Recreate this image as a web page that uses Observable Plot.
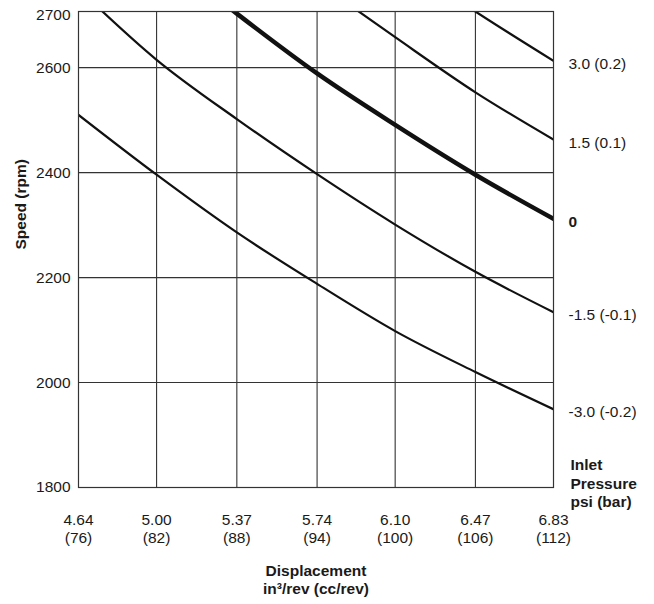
<!DOCTYPE html>
<html>
<head>
<meta charset="utf-8">
<script src="https://cdn.jsdelivr.net/npm/d3@7"></script>
<script src="https://cdn.jsdelivr.net/npm/@observablehq/plot@0.6"></script>
<style>
  html, body { margin: 0; padding: 0; background: #fff; }
  #chart { width: 654px; height: 604px; }
</style>
</head>
<body>
<div id="chart"></div>
<script>
// Displacement ticks (in^3/rev) and matching cc/rev
const dispIn = [4.64, 5.00, 5.37, 5.74, 6.10, 6.47, 6.83];
const dispCc = [76, 82, 88, 94, 100, 106, 112];
const speedTicks = [1800, 2000, 2200, 2400, 2600, 2700];
const speedGrid = [2000, 2200, 2400, 2600];

// Speed (rpm) per inlet pressure curve, read at the displacement ticks
const dispP30 = [6.10, 6.47, 6.83];
const speedP30 = [2810, 2707, 2613];          // 3.0 psi (0.2 bar)
const dispP15 = [5.74, 6.10, 6.47, 6.83];
const speedP15 = [2763, 2658, 2553, 2463];    // 1.5 psi (0.1 bar)
const speedP0 = [2952, 2824, 2703, 2589, 2491, 2396, 2312];   // 0
const speedM15 = [2750, 2615, 2502, 2397, 2301, 2211, 2134];  // -1.5 psi (-0.1 bar)
const speedM30 = [2510, 2396, 2286, 2188, 2098, 2020, 1949];  // -3.0 psi (-0.2 bar)

const pressureLabels = ["3.0 (0.2)", "1.5 (0.1)", "0", "-1.5 (-0.1)", "-3.0 (-0.2)"];

const series = [
  {label: pressureLabels[0], x: dispP30, y: speedP30, bold: false},
  {label: pressureLabels[1], x: dispP15, y: speedP15, bold: false},
  {label: pressureLabels[2], x: dispIn, y: speedP0, bold: true},
  {label: pressureLabels[3], x: dispIn, y: speedM15, bold: false},
  {label: pressureLabels[4], x: dispIn, y: speedM30, bold: false}
];
const toRows = s => s.x.map((x, i) => ({x, y: s.y[i], label: s.label}));
const ends = series.map(s => ({x: s.x[s.x.length - 1], y: s.y[s.y.length - 1], label: s.label, bold: s.bold}));

const ink = "#1a1a1a";
const gridInk = "#333";
const fs = 15.5;

const marks = [
  Plot.ruleX(dispIn.slice(1, -1), {stroke: gridInk, strokeWidth: 1.1}),
  Plot.ruleY(speedGrid, {stroke: gridInk, strokeWidth: 1.1}),
  ...series.map(s => Plot.line(toRows(s), {
    x: "x", y: "y", curve: "monotone-x", clip: true,
    stroke: "#111", strokeWidth: s.bold ? 4.5 : 2.2
  })),
  Plot.frame({stroke: gridInk, strokeWidth: 1.2}),
  Plot.axisY({ticks: speedTicks, tickSize: 0, tickPadding: 8, tickFormat: d => String(d), fill: ink, fontSize: fs, label: null}),
  // x tick labels (two lines: in^3/rev and cc/rev)
  Plot.text(dispIn, {
    x: d => d, frameAnchor: "bottom", lineAnchor: "middle", dy: 41, lineHeight: 1.12, fill: ink, fontSize: fs,
    text: (d, i) => `${d.toFixed(2)}\n(${dispCc[i]})`
  }),
  // pressure labels at curve ends
  Plot.text(ends.filter(d => !d.bold), {
    x: "x", y: "y", text: "label", textAnchor: "start", lineAnchor: "middle", dx: 15, dy: 3, fill: ink, fontSize: fs
  }),
  Plot.text(ends.filter(d => d.bold), {
    x: "x", y: "y", text: "label", textAnchor: "start", lineAnchor: "middle", dx: 15, dy: 3, fill: ink, fontSize: fs,
    fontWeight: "bold"
  }),
  Plot.text(["Inlet\nPressure\npsi (bar)"], {
    frameAnchor: "bottom-right", textAnchor: "start", lineAnchor: "middle", dx: 17, dy: -5, lineHeight: 1.22,
    fontWeight: "bold", fill: ink, fontSize: fs
  }),
  Plot.text(["Displacement\nin³/rev (cc/rev)"], {
    frameAnchor: "bottom", lineAnchor: "middle", dy: 92, lineHeight: 1.12, fontWeight: "bold", fill: ink, fontSize: fs
  }),
  Plot.text(["Speed (rpm)"], {
    frameAnchor: "left", lineAnchor: "middle", dx: -57, rotate: -90, fontWeight: "bold", fill: ink, fontSize: fs
  })
];

const chart = Plot.plot({
  width: 654,
  height: 604,
  marginLeft: 78,
  marginRight: 101,
  marginTop: 11,
  marginBottom: 117,
  style: {fontFamily: "'Liberation Sans', Arial, Helvetica, sans-serif", fontSize: "15.5px", background: "#fff", color: ink},
  x: {domain: [4.64, 6.83], axis: null},
  y: {domain: [1800, 2707], axis: null},
  marks
});
d3.select("#chart").node().appendChild(chart);
</script>
</body>
</html>
